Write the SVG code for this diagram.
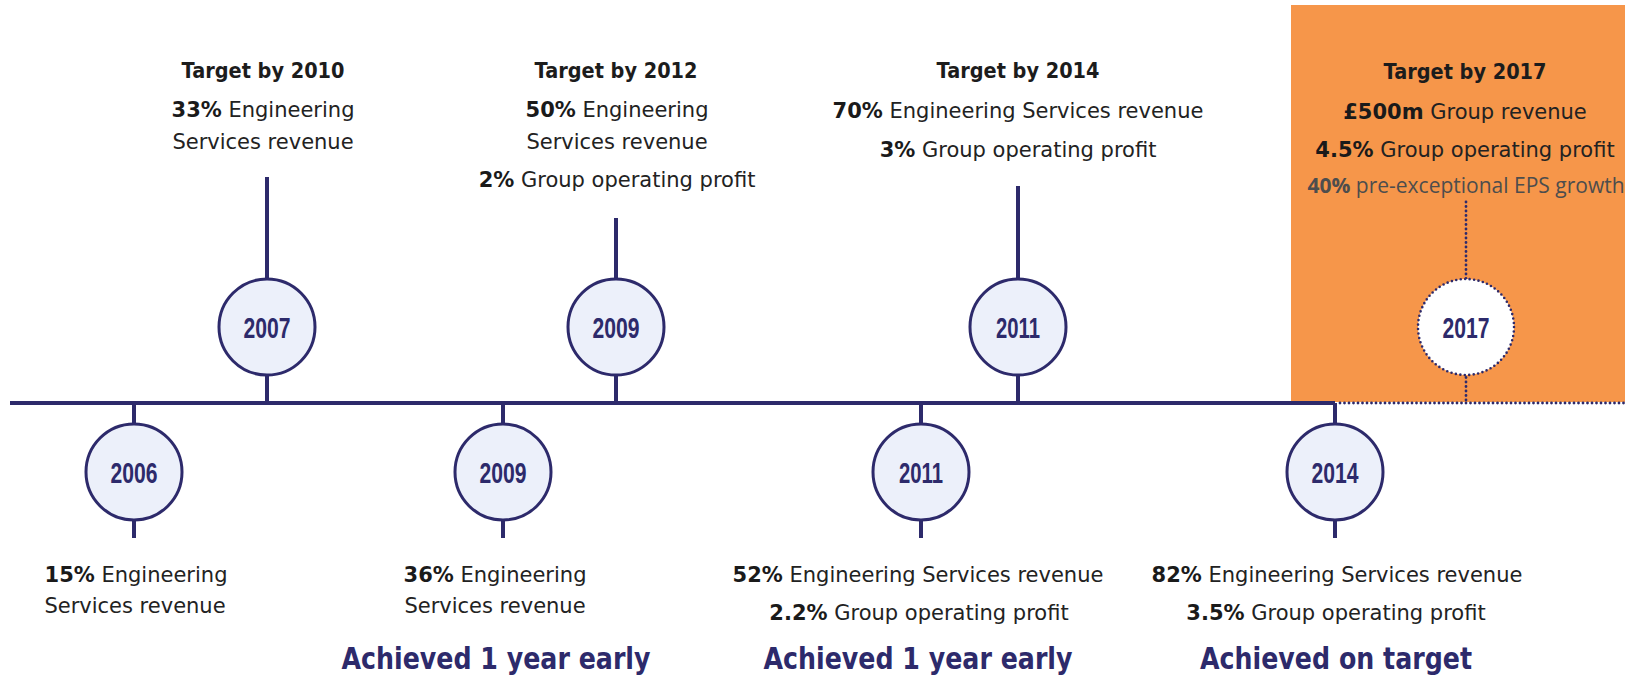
<svg xmlns="http://www.w3.org/2000/svg" width="1625" height="681" viewBox="0 0 1625 681">
<style>
.hd{font-family:"DejaVu Sans",sans-serif;font-weight:bold;font-size:21px;fill:#1c1c1c;text-anchor:middle}
.tx{font-family:"DejaVu Sans",sans-serif;font-size:21px;fill:#222;text-anchor:middle}
.b{font-weight:bold;fill:#1a1a1a}
.gr{font-family:"Open Sans",sans-serif;font-size:21px;fill:#4d4d4d;text-anchor:middle}
.yr{font-family:"Liberation Sans",sans-serif;font-weight:bold;font-size:30px;fill:#2d2a6b;text-anchor:middle}
.ach{font-family:"DejaVu Sans",sans-serif;font-weight:bold;font-size:31px;fill:#2d2a6b;text-anchor:middle}
.nd{fill:#ecf0fa;stroke:#2d2a6b;stroke-width:3}
.ndd{fill:#ffffff;stroke:#2d2a6b;stroke-width:2.6;stroke-dasharray:0 4.5;stroke-linecap:round}
.ln{stroke:#2d2a6b;stroke-width:4;fill:none}
.dt{stroke:#2d2a6b;stroke-width:2.8;stroke-dasharray:0 4.5;stroke-linecap:round;fill:none}
</style>
<rect x="1291" y="5" width="334" height="397" fill="#f6964a"/>
<g id="connectors">
<line class="ln" x1="10" y1="403" x2="1335" y2="403"/>
<line class="dt" x1="1340" y1="403" x2="1625" y2="403"/>
<line class="ln" x1="267" y1="177" x2="267" y2="403"/>
<line class="ln" x1="616" y1="218" x2="616" y2="403"/>
<line class="ln" x1="1018" y1="186" x2="1018" y2="403"/>
<line class="dt" x1="1466" y1="202" x2="1466" y2="401"/>
<line class="ln" x1="134" y1="403" x2="134" y2="538"/>
<line class="ln" x1="503" y1="403" x2="503" y2="538"/>
<line class="ln" x1="921" y1="403" x2="921" y2="538"/>
<line class="ln" x1="1335" y1="403" x2="1335" y2="538"/>
</g>
<g id="node-2006">
<circle class="nd" cx="134" cy="472" r="48"/>
<text class="yr" x="134" y="483" textLength="47" lengthAdjust="spacingAndGlyphs">2006</text>
<text class="tx" x="136" y="582"><tspan class="b">15%</tspan> Engineering</text>
<text class="tx" x="135" y="613">Services revenue</text>
</g>
<g id="node-2007">
<circle class="nd" cx="267" cy="327" r="48"/>
<text class="yr" x="267" y="338" textLength="47" lengthAdjust="spacingAndGlyphs">2007</text>
<text class="hd" x="263" y="78" textLength="163" lengthAdjust="spacingAndGlyphs">Target by 2010</text>
<text class="tx" x="263" y="117"><tspan class="b">33%</tspan> Engineering</text>
<text class="tx" x="263" y="149">Services revenue</text>
</g>
<g id="node-2009-achieved">
<circle class="nd" cx="503" cy="472" r="48"/>
<text class="yr" x="503" y="483" textLength="47" lengthAdjust="spacingAndGlyphs">2009</text>
<text class="tx" x="495" y="582"><tspan class="b">36%</tspan> Engineering</text>
<text class="tx" x="495" y="613">Services revenue</text>
<text class="ach" x="496" y="669" textLength="309" lengthAdjust="spacingAndGlyphs">Achieved 1 year early</text>
</g>
<g id="node-2009-target">
<circle class="nd" cx="616" cy="327" r="48"/>
<text class="yr" x="616" y="338" textLength="47" lengthAdjust="spacingAndGlyphs">2009</text>
<text class="hd" x="616" y="78" textLength="163" lengthAdjust="spacingAndGlyphs">Target by 2012</text>
<text class="tx" x="617" y="117"><tspan class="b">50%</tspan> Engineering</text>
<text class="tx" x="617" y="149">Services revenue</text>
<text class="tx" x="617" y="187"><tspan class="b">2%</tspan> Group operating profit</text>
</g>
<g id="node-2011-achieved">
<circle class="nd" cx="921" cy="472" r="48"/>
<text class="yr" x="921" y="483" textLength="44" lengthAdjust="spacingAndGlyphs">2011</text>
<text class="tx" x="918" y="582"><tspan class="b">52%</tspan> Engineering Services revenue</text>
<text class="tx" x="919" y="620"><tspan class="b">2.2%</tspan> Group operating profit</text>
<text class="ach" x="918" y="669" textLength="309" lengthAdjust="spacingAndGlyphs">Achieved 1 year early</text>
</g>
<g id="node-2011-target">
<circle class="nd" cx="1018" cy="327" r="48"/>
<text class="yr" x="1018" y="338" textLength="44" lengthAdjust="spacingAndGlyphs">2011</text>
<text class="hd" x="1018" y="78" textLength="163" lengthAdjust="spacingAndGlyphs">Target by 2014</text>
<text class="tx" x="1018" y="118"><tspan class="b">70%</tspan> Engineering Services revenue</text>
<text class="tx" x="1018" y="157"><tspan class="b">3%</tspan> Group operating profit</text>
</g>
<g id="node-2014">
<circle class="nd" cx="1335" cy="472" r="48"/>
<text class="yr" x="1335" y="483" textLength="47" lengthAdjust="spacingAndGlyphs">2014</text>
<text class="tx" x="1337" y="582"><tspan class="b">82%</tspan> Engineering Services revenue</text>
<text class="tx" x="1336" y="620"><tspan class="b">3.5%</tspan> Group operating profit</text>
<text class="ach" x="1336" y="669" textLength="272" lengthAdjust="spacingAndGlyphs">Achieved on target</text>
</g>
<g id="node-2017">
<circle class="ndd" cx="1466" cy="327" r="48"/>
<text class="yr" x="1466" y="338" textLength="47" lengthAdjust="spacingAndGlyphs">2017</text>
<text class="hd" x="1465" y="79" textLength="163" lengthAdjust="spacingAndGlyphs">Target by 2017</text>
<text class="tx" x="1465" y="119"><tspan class="b">£500m</tspan> Group revenue</text>
<text class="tx" x="1465" y="157"><tspan class="b">4.5%</tspan> Group operating profit</text>
<text class="gr" x="1466" y="193"><tspan font-weight="bold">40%</tspan> pre-exceptional EPS growth</text>
</g>
</svg>
